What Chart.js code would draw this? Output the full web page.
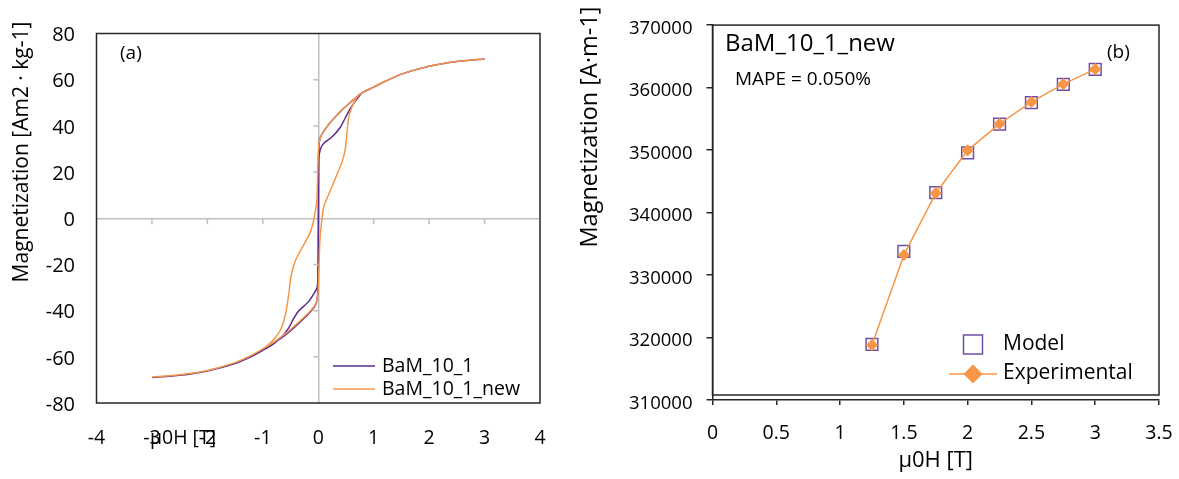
<!DOCTYPE html>
<html>
<head>
<meta charset="utf-8">
<script src="https://cdn.jsdelivr.net/npm/chart.js@4.4.1/dist/chart.umd.min.js"></script>
<style>
  html, body { margin: 0; padding: 0; background: #fff; overflow: hidden; }
  .panel { position: absolute; top: 0; height: 479px; }
  #left { left: 0; width: 560px; }
  #right { left: 570px; width: 609px; }
  canvas { display: block; }
</style>
</head>
<body>
<div class="panel" id="left"><canvas id="loopChart"></canvas></div>
<div class="panel" id="right"><canvas id="fitChart"></canvas></div>
<script>
// (a) HYSTERESIS LOOPS - field in T, magnetization in Am2/kg
const bamDownH = [3, 2.5, 2, 1.5, 1.2, 1.0, 0.79, 0.55, 0.37, 0.19, 0.07, 0.025, 0.008, 0.0, -0.008, -0.02, -0.05, -0.17, -0.35, -0.445, -0.535, -0.625, -0.715, -0.85, -1.0, -1.2, -1.5, -2, -2.5, -3];
const bamDownM = [69, 67.9, 65.8, 62.4, 59.2, 56.8, 54.3, 49.6, 45.5, 40.7, 36.5, 34, 28, 0, -27, -30, -31.5, -36, -40.1, -43.5, -47.6, -50.4, -52.6, -55.2, -57.2, -59.8, -62.9, -66.1, -68, -69];
const bamUpH = [-3, -2.5, -2, -1.5, -1.2, -1.0, -0.78, -0.54, -0.35, -0.17, -0.05, -0.015, -0.005, 0.005, 0.012, 0.036, 0.096, 0.246, 0.396, 0.486, 0.577, 0.697, 0.79, 1.0, 1.2, 1.5, 2, 2.5, 3];
const bamUpM = [-69, -68, -66.1, -62.9, -59.8, -57, -53.8, -49.5, -45.4, -41.2, -37.6, -34, -28, 0, 26, 29.7, 32.4, 35.2, 39.3, 43.4, 47.5, 51.6, 54.3, 56.8, 59.2, 62.4, 65.8, 67.9, 69];

const newDownH = [3, 2.5, 2, 1.5, 1.2, 1.0, 0.79, 0.55, 0.37, 0.19, 0.07, 0.02, 0.0, -0.015, -0.025, -0.067, -0.14, -0.29, -0.41, -0.49, -0.535, -0.59, -0.68, -0.8, -0.9, -1.0, -1.2, -1.5, -2, -2.5, -3];
const newDownM = [69, 67.9, 65.8, 62.4, 59.2, 56.8, 54.3, 49.6, 45.5, 40.7, 36.5, 33.5, 28, 15, 7.8, 1, -5.9, -12.7, -18.2, -25, -33.3, -41.5, -48.3, -52.4, -54.8, -56.6, -59.3, -62.5, -65.9, -67.8, -68.8];
const newUpH = [-3, -2.5, -2, -1.5, -1.2, -1.0, -0.78, -0.54, -0.35, -0.17, -0.05, -0.01, 0.005, 0.02, 0.035, 0.054, 0.1, 0.216, 0.336, 0.427, 0.486, 0.517, 0.546, 0.607, 0.697, 0.79, 1.0, 1.2, 1.5, 2, 2.5, 3];
const newUpM = [-68.8, -67.8, -65.9, -62.5, -59.3, -56.6, -53.3, -49, -44.9, -40.8, -37.4, -33.3, -28, -15, -7.8, -3, 5, 11.9, 18.8, 24.2, 29.7, 36.5, 43.4, 48.2, 52.3, 54.3, 56.8, 59.2, 62.4, 65.8, 67.9, 69];

// (b) MODEL vs EXPERIMENT - field in T, magnetization in A/m
const fieldT = [1.25, 1.5, 1.75, 2.0, 2.25, 2.5, 2.75, 3.0];
const modelM = [318900, 333800, 343200, 349550, 354150, 357600, 360500, 362900];
const expM = [318800, 333200, 343100, 349950, 354200, 357700, 360550, 362950];

const PURPLE = '#5B2C8F';
const ORANGE = '#F79646';
const MODEL_PURPLE = '#6F4FA3';
const ZERO_GREY = '#BFBFBF';
const AXIS_BLACK = '#262626';

Chart.defaults.font.family = '"Open Sans", sans-serif';
Chart.defaults.color = '#000';

function toPoints(xs, ys) {
    return xs.map(function(x, i) { return { x: x, y: ys[i] }; });
}

function drawText(ctx, text, x, y, size, align, rotate) {
    ctx.save();
    ctx.font = size + 'px "Open Sans", sans-serif';
    ctx.fillStyle = '#000';
    ctx.textBaseline = 'middle';
    ctx.textAlign = align || 'left';
    ctx.translate(x, y);
    if (rotate) ctx.rotate(-Math.PI / 2);
    ctx.fillText(text, 0, 0);
    ctx.restore();
}

function zeroGrid(context) {
    return context.tick && context.tick.value === 0 ? ZERO_GREY : 'transparent';
}

// keep the plot width fixed: no extra side padding from the tick labels
function fixXAxis(height) {
    return function(scale) {
        scale.height = height;
        scale.paddingLeft = 0;
        scale.paddingRight = 0;
    };
}

// LEFT CHART DECORATION: box, ticks on the zero lines, texts, legend
const loopDecor = {
    id: 'loopDecor',
    afterDatasetsDraw: function(chart) {
        const ctx = chart.ctx;
        const area = chart.chartArea;
        const xs = chart.scales.x;
        const ys = chart.scales.y;
        const x0 = xs.getPixelForValue(0);
        const y0 = ys.getPixelForValue(0);

        ctx.save();
        ctx.strokeStyle = ZERO_GREY;
        ctx.lineWidth = 1.5;
        ctx.beginPath();
        xs.ticks.forEach(function(t) {
            if (t.value === 0 || Math.abs(t.value) === 4) return;
            const px = xs.getPixelForValue(t.value);
            ctx.moveTo(px, y0);
            ctx.lineTo(px, y0 + 6);
        });
        ys.ticks.forEach(function(t) {
            if (t.value === 0 || Math.abs(t.value) === 80) return;
            const py = ys.getPixelForValue(t.value);
            ctx.moveTo(x0 - 5, py);
            ctx.lineTo(x0, py);
        });
        ctx.stroke();

        ctx.strokeStyle = AXIS_BLACK;
        ctx.lineWidth = 1.5;
        ctx.strokeRect(area.left, area.top, area.right - area.left, area.bottom - area.top);

        // legend
        const sets = chart.data.datasets;
        [366, 389].forEach(function(ly, i) {
            ctx.strokeStyle = sets[i].borderColor;
            ctx.lineWidth = 1.5;
            ctx.beginPath();
            ctx.moveTo(333, ly);
            ctx.lineTo(375, ly);
            ctx.stroke();
            drawText(ctx, sets[i].label, 382, ly, 19.5, 'left');
        });
        ctx.restore();

        drawText(ctx, '(a)', 120, 54, 19, 'left');
        drawText(ctx, 'Magnetization [Am2 · kg-1]', 22, 152, 21, 'center', true);
        drawText(ctx, 'μ0H [T]', 183, 438, 19.5, 'center');
    }
};

const loopChart = new Chart(document.getElementById('loopChart'), {
    type: 'scatter',
    data: {
        datasets: [{
            label: 'BaM_10_1',
            data: toPoints(bamDownH.concat(bamUpH), bamDownM.concat(bamUpM)),
            showLine: true,
            borderColor: PURPLE,
            borderWidth: 1.5,
            pointRadius: 0,
            tension: 0.2,
            order: 1
        }, {
            label: 'BaM_10_1_new',
            data: toPoints(newDownH.concat(newUpH), newDownM.concat(newUpM)),
            showLine: true,
            borderColor: ORANGE,
            borderWidth: 1.5,
            pointRadius: 0,
            tension: 0.2,
            order: 0
        }]
    },
    options: {
        responsive: true,
        maintainAspectRatio: false,
        animation: false,
        layout: { padding: { left: 0, right: 20, top: 14, bottom: 0 } },
        scales: {
            x: {
                type: 'linear',
                min: -4,
                max: 4,
                ticks: { stepSize: 1, padding: 24, font: { size: 19.5 } },
                grid: { color: zeroGrid, lineWidth: 1.5, drawTicks: false },
                border: { display: false },
                afterFit: fixXAxis(76)
            },
            y: {
                min: -80,
                max: 80,
                ticks: { stepSize: 20, padding: 21.5, labelOffset: 2, font: { size: 20 } },
                grid: { color: zeroGrid, lineWidth: 1.5, drawTicks: false },
                border: { display: false },
                afterFit: function(scale) { scale.width = 96.5; }
            }
        },
        plugins: {
            legend: { display: false },
            tooltip: { enabled: false }
        }
    },
    plugins: [loopDecor]
});

// RIGHT CHART DECORATION: box, texts, legend
const fitDecor = {
    id: 'fitDecor',
    afterDatasetsDraw: function(chart) {
        const ctx = chart.ctx;
        const area = chart.chartArea;
        const sets = chart.data.datasets;

        ctx.save();
        ctx.strokeStyle = AXIS_BLACK;
        ctx.lineWidth = 1.5;
        ctx.strokeRect(area.left, area.top, area.right - area.left, area.bottom - 5 - area.top);

        // legend: Model
        ctx.strokeStyle = sets[0].borderColor;
        ctx.lineWidth = 1.5;
        ctx.strokeRect(393.5, 335, 19, 19);
        drawText(ctx, sets[0].label, 433, 344, 21, 'left');

        // legend: Experimental
        ctx.strokeStyle = sets[1].borderColor;
        ctx.beginPath();
        ctx.moveTo(379, 374);
        ctx.lineTo(427, 374);
        ctx.stroke();
        ctx.fillStyle = sets[1].backgroundColor;
        ctx.beginPath();
        ctx.moveTo(403, 364.5);
        ctx.lineTo(412.5, 374);
        ctx.lineTo(403, 383.5);
        ctx.lineTo(393.5, 374);
        ctx.closePath();
        ctx.fill();
        drawText(ctx, sets[1].label, 433, 373, 21, 'left');
        ctx.restore();

        drawText(ctx, 'BaM_10_1_new', 155, 44, 24, 'left');
        drawText(ctx, 'MAPE = 0.050%', 165, 80, 19, 'left');
        drawText(ctx, '(b)', 537, 53, 19, 'left');
        drawText(ctx, 'Magnetization [A·m-1]', 20, 127, 23.5, 'center', true);
    }
};

const fitChart = new Chart(document.getElementById('fitChart'), {
    type: 'scatter',
    data: {
        datasets: [{
            label: 'Model',
            data: toPoints(fieldT, modelM),
            pointStyle: 'rect',
            pointRadius: 8.3,
            borderColor: MODEL_PURPLE,
            backgroundColor: 'transparent',
            borderWidth: 1.5,
            showLine: false,
            order: 1
        }, {
            label: 'Experimental',
            data: toPoints(fieldT, expM),
            pointStyle: 'rectRot',
            pointRadius: 5,
            borderColor: ORANGE,
            backgroundColor: ORANGE,
            borderWidth: 1.5,
            showLine: true,
            tension: 0,
            order: 0
        }]
    },
    options: {
        responsive: true,
        maintainAspectRatio: false,
        animation: false,
        layout: { padding: { left: 0, right: 20, top: 14, bottom: 0 } },
        scales: {
            x: {
                type: 'linear',
                min: 0,
                max: 3.5,
                ticks: {
                    stepSize: 0.5,
                    padding: 17,
                    font: { size: 19.5 },
                    callback: function(value) { return String(value); }
                },
                grid: { drawOnChartArea: false, drawTicks: true, tickLength: 5, color: AXIS_BLACK, lineWidth: 1.5 },
                border: { display: true, color: AXIS_BLACK, width: 1.5 },
                title: { display: true, text: 'μ0H [T]', font: { size: 22 }, padding: { top: 0, bottom: 5 } },
                afterFit: fixXAxis(79)
            },
            y: {
                min: 310000,
                max: 370000,
                ticks: {
                    stepSize: 10000,
                    padding: 14,
                    labelOffset: 3.5,
                    font: { size: 18.5 },
                    callback: function(value) { return String(value); }
                },
                grid: { drawOnChartArea: false, drawTicks: true, tickLength: 6, color: AXIS_BLACK, lineWidth: 1.5 },
                border: { display: true, color: AXIS_BLACK, width: 1.5 },
                afterFit: function(scale) { scale.width = 142.5; }
            }
        },
        plugins: {
            legend: { display: false },
            tooltip: { enabled: false }
        }
    },
    plugins: [fitDecor]
});
</script>
</body>
</html>
